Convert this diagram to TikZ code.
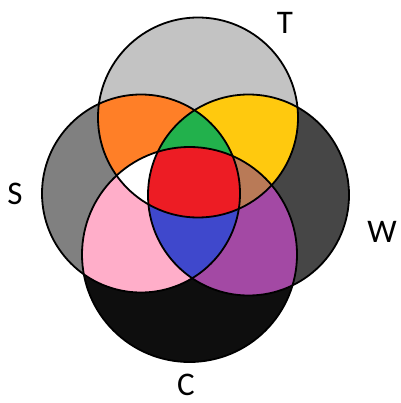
\documentclass[tikz,border=0pt]{standalone}
\usepackage{fontspec}
\setmainfont{Carlito}
\definecolor{cT}{HTML}{C3C3C3}
\definecolor{cS}{HTML}{808080}
\definecolor{cW}{HTML}{464646}
\definecolor{cC}{HTML}{0E0E0E}
\definecolor{cTS}{HTML}{FF7F27}
\definecolor{cTW}{HTML}{FFC90E}
\definecolor{cSC}{HTML}{FFAEC9}
\definecolor{cWC}{HTML}{A349A4}
\definecolor{cTSW}{HTML}{22B14C}
\definecolor{cTSC}{HTML}{FFFFFF}
\definecolor{cTWC}{HTML}{B97A57}
\definecolor{cSWC}{HTML}{3F48CC}
\definecolor{cAll}{HTML}{ED1C24}
\tikzset{
  lbl/.style={inner sep=0pt, anchor=base, font=\fontsize{33}{40}\selectfont},
  outline/.style={draw=black, line width=1.8pt}
}
\def\Tc{(198,117.5) circle[radius=100pt]}
\def\Sc{(141,193.5) circle[radius=99pt]}
\def\Wc{(248.5,195) circle[radius=100.5pt]}
\def\Cc{(189.5,254.5) circle[radius=107.5pt]}
\begin{document}
\begin{tikzpicture}[x=1pt,y=-1pt]
\useasboundingbox (0,0) rectangle (400,403);
% single sets
\fill[cT] \Tc;
\fill[cS] \Sc;
\fill[cW] \Wc;
\fill[cC] \Cc;
% pairs
\begin{scope}\clip \Tc; \fill[cTS] \Sc; \fill[cTW] \Wc; \end{scope}
\begin{scope}\clip \Cc; \fill[cSC] \Sc; \fill[cWC] \Wc; \end{scope}
% triples
\begin{scope}\clip \Tc; \clip \Sc; \fill[cTSW] \Wc; \fill[cTSC] \Cc; \end{scope}
\begin{scope}\clip \Tc; \clip \Wc; \fill[cTWC] \Cc; \end{scope}
\begin{scope}\clip \Sc; \clip \Wc; \fill[cSWC] \Cc; \end{scope}
% all four
\begin{scope}\clip \Tc; \clip \Sc; \clip \Wc; \fill[cAll] \Cc; \end{scope}
% outlines
\draw[outline] \Tc;
\draw[outline] \Sc;
\draw[outline] \Wc;
\draw[outline] \Cc;
% labels
\node[lbl] (lT) at (285,34) {T};
\node[lbl] (lS) at (15,204) {S};
\node[lbl] (lW) at (382,242) {W};
\node[lbl] (lC) at (186,395) {C};
\end{tikzpicture}
\end{document}
